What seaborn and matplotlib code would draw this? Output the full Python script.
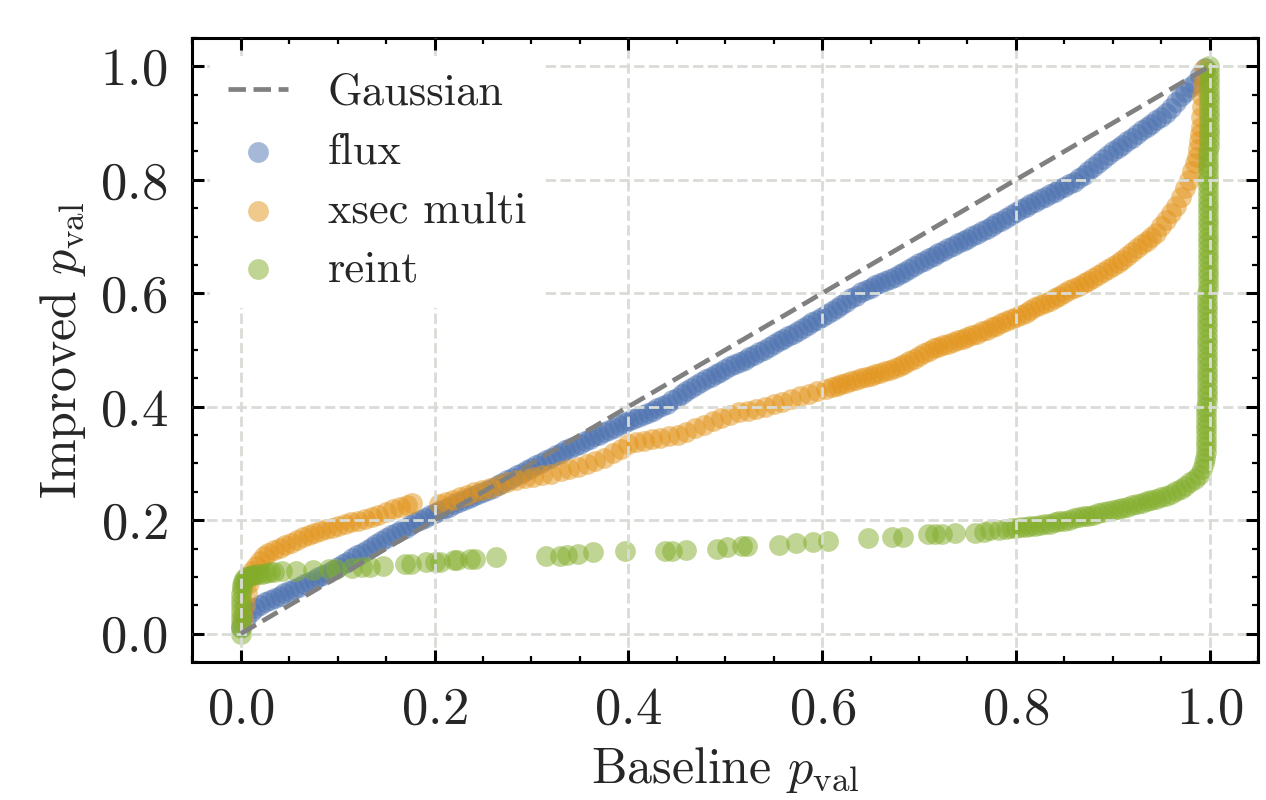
import matplotlib
matplotlib.use("Agg")
import matplotlib.pyplot as plt
import seaborn as sns
from matplotlib.ticker import MultipleLocator

# identity reference line
gauss_x = [0.0, 1.0]
gauss_y = [0.0, 1.0]

# flux: sorted p-values
flux_x = [
    0.000, 0.005, 0.010, 0.015, 0.020, 0.025, 0.030, 0.035, 0.040, 0.045,
    0.050, 0.055, 0.060, 0.065, 0.070, 0.075, 0.080, 0.085, 0.090, 0.095,
    0.100, 0.105, 0.110, 0.115, 0.120, 0.125, 0.130, 0.135, 0.140, 0.145,
    0.150, 0.155, 0.160, 0.165, 0.170, 0.175, 0.180, 0.185, 0.190, 0.195,
    0.200, 0.205, 0.210, 0.215, 0.220, 0.225, 0.230, 0.235, 0.240, 0.245,
    0.250, 0.255, 0.260, 0.265, 0.270, 0.275, 0.280, 0.285, 0.290, 0.295,
    0.300, 0.305, 0.310, 0.315, 0.320, 0.325, 0.330, 0.335, 0.340, 0.345,
    0.350, 0.355, 0.360, 0.365, 0.370, 0.375, 0.380, 0.385, 0.390, 0.395,
    0.400, 0.405, 0.410, 0.415, 0.420, 0.425, 0.430, 0.435, 0.440, 0.445,
    0.450, 0.455, 0.460, 0.465, 0.470, 0.475, 0.480, 0.485, 0.490, 0.495,
    0.500, 0.505, 0.510, 0.515, 0.520, 0.525, 0.530, 0.535, 0.540, 0.545,
    0.550, 0.555, 0.560, 0.565, 0.570, 0.575, 0.580, 0.585, 0.590, 0.595,
    0.600, 0.605, 0.610, 0.615, 0.620, 0.625, 0.630, 0.635, 0.640, 0.645,
    0.650, 0.655, 0.660, 0.665, 0.670, 0.675, 0.680, 0.685, 0.690, 0.695,
    0.700, 0.705, 0.710, 0.715, 0.720, 0.725, 0.730, 0.735, 0.740, 0.745,
    0.750, 0.755, 0.760, 0.765, 0.770, 0.775, 0.780, 0.785, 0.790, 0.795,
    0.800, 0.805, 0.810, 0.815, 0.820, 0.825, 0.830, 0.835, 0.840, 0.845,
    0.850, 0.855, 0.860, 0.865, 0.870, 0.875, 0.880, 0.885, 0.890, 0.895,
    0.900, 0.905, 0.910, 0.915, 0.920, 0.925, 0.930, 0.935, 0.940, 0.945,
    0.950, 0.955, 0.960, 0.965, 0.970, 0.975, 0.980, 0.985, 0.990, 0.995,
]
flux_y = [
    0.012, 0.028, 0.038, 0.045, 0.051, 0.055, 0.059, 0.063, 0.067, 0.071,
    0.075, 0.079, 0.083, 0.087, 0.091, 0.095, 0.099, 0.103, 0.107, 0.112,
    0.117, 0.122, 0.127, 0.133, 0.138, 0.143, 0.148, 0.153, 0.158, 0.163,
    0.168, 0.173, 0.178, 0.182, 0.187, 0.191, 0.196, 0.200, 0.204, 0.209,
    0.212, 0.216, 0.220, 0.224, 0.228, 0.232, 0.235, 0.239, 0.242, 0.246,
    0.250, 0.254, 0.257, 0.262, 0.266, 0.270, 0.275, 0.279, 0.284, 0.288,
    0.292, 0.297, 0.301, 0.306, 0.310, 0.315, 0.319, 0.323, 0.327, 0.331,
    0.335, 0.339, 0.343, 0.348, 0.351, 0.355, 0.359, 0.363, 0.367, 0.371,
    0.374, 0.378, 0.382, 0.386, 0.389, 0.393, 0.397, 0.401, 0.405, 0.411,
    0.416, 0.422, 0.428, 0.433, 0.439, 0.444, 0.448, 0.453, 0.457, 0.462,
    0.467, 0.471, 0.475, 0.479, 0.483, 0.488, 0.492, 0.496, 0.500, 0.505,
    0.510, 0.515, 0.519, 0.524, 0.529, 0.534, 0.539, 0.544, 0.549, 0.553,
    0.558, 0.563, 0.568, 0.574, 0.579, 0.585, 0.591, 0.596, 0.602, 0.606,
    0.610, 0.614, 0.618, 0.622, 0.625, 0.629, 0.634, 0.638, 0.643, 0.648,
    0.653, 0.657, 0.662, 0.666, 0.671, 0.675, 0.679, 0.683, 0.688, 0.692,
    0.696, 0.701, 0.705, 0.710, 0.714, 0.718, 0.723, 0.728, 0.733, 0.738,
    0.743, 0.748, 0.752, 0.757, 0.761, 0.766, 0.770, 0.775, 0.779, 0.784,
    0.788, 0.793, 0.797, 0.803, 0.809, 0.816, 0.823, 0.830, 0.836, 0.843,
    0.850, 0.856, 0.862, 0.868, 0.874, 0.881, 0.887, 0.893, 0.899, 0.905,
    0.911, 0.917, 0.926, 0.938, 0.948, 0.955, 0.963, 0.970, 0.984, 0.997,
]

# xsec multi
xsec_x = [
    0.002, 0.004, 0.006, 0.008, 0.010, 0.012, 0.016, 0.020, 0.024, 0.028,
    0.034, 0.040, 0.046, 0.052, 0.058, 0.064, 0.070, 0.076, 0.082, 0.088,
    0.094, 0.100, 0.107, 0.114, 0.121, 0.128, 0.135, 0.142, 0.150, 0.157,
    0.164, 0.171, 0.177, 0.205, 0.212, 0.219, 0.226, 0.233, 0.241, 0.249,
    0.257, 0.266, 0.275, 0.284, 0.293, 0.302, 0.311, 0.320, 0.330, 0.339,
    0.348, 0.357, 0.366, 0.375, 0.384, 0.392, 0.400, 0.408, 0.416, 0.424,
    0.433, 0.442, 0.451, 0.460, 0.469, 0.478, 0.487, 0.496, 0.505, 0.514,
    0.523, 0.532, 0.541, 0.550, 0.559, 0.568, 0.577, 0.586, 0.595, 0.604,
    0.610, 0.615, 0.620, 0.625, 0.630, 0.635, 0.640, 0.645, 0.650, 0.655,
    0.660, 0.665, 0.670, 0.675, 0.680, 0.685, 0.690, 0.695, 0.700, 0.705,
    0.710, 0.715, 0.720, 0.725, 0.730, 0.735, 0.740, 0.745, 0.750, 0.755,
    0.760, 0.765, 0.770, 0.775, 0.780, 0.785, 0.790, 0.795, 0.800, 0.805,
    0.810, 0.815, 0.820, 0.825, 0.830, 0.835, 0.840, 0.845, 0.850, 0.855,
    0.860, 0.865, 0.870, 0.875, 0.880, 0.885, 0.890, 0.895, 0.900, 0.905,
    0.910, 0.915, 0.920, 0.925, 0.930, 0.935, 0.940, 0.945, 0.950, 0.955,
    0.960, 0.965, 0.970, 0.975, 0.979, 0.982, 0.985, 0.987, 0.988, 0.989,
    0.990, 0.991, 0.991, 0.992, 0.992, 0.993, 0.993, 0.994,
]
xsec_y = [
    0.030, 0.050, 0.072, 0.090, 0.102, 0.111, 0.120, 0.128, 0.137, 0.142,
    0.147, 0.151, 0.156, 0.160, 0.165, 0.170, 0.174, 0.178, 0.181, 0.184,
    0.187, 0.190, 0.193, 0.196, 0.198, 0.202, 0.206, 0.210, 0.215, 0.219,
    0.223, 0.227, 0.230, 0.229, 0.232, 0.236, 0.240, 0.245, 0.249, 0.253,
    0.257, 0.262, 0.267, 0.270, 0.274, 0.277, 0.280, 0.282, 0.286, 0.290,
    0.294, 0.299, 0.305, 0.310, 0.318, 0.326, 0.334, 0.337, 0.340, 0.343,
    0.345, 0.348, 0.351, 0.356, 0.362, 0.368, 0.374, 0.380, 0.386, 0.390,
    0.393, 0.396, 0.400, 0.404, 0.409, 0.414, 0.419, 0.423, 0.428, 0.432,
    0.435, 0.437, 0.440, 0.442, 0.445, 0.447, 0.450, 0.452, 0.455, 0.457,
    0.460, 0.463, 0.465, 0.468, 0.471, 0.475, 0.480, 0.484, 0.489, 0.494,
    0.498, 0.503, 0.506, 0.509, 0.511, 0.514, 0.517, 0.520, 0.523, 0.526,
    0.529, 0.533, 0.536, 0.540, 0.543, 0.547, 0.551, 0.554, 0.558, 0.562,
    0.566, 0.570, 0.575, 0.579, 0.583, 0.587, 0.591, 0.596, 0.600, 0.605,
    0.609, 0.613, 0.618, 0.622, 0.627, 0.632, 0.638, 0.643, 0.648, 0.654,
    0.659, 0.666, 0.673, 0.680, 0.686, 0.693, 0.700, 0.707, 0.718, 0.730,
    0.741, 0.753, 0.769, 0.786, 0.800, 0.815, 0.830, 0.841, 0.855, 0.868,
    0.880, 0.893, 0.910, 0.928, 0.947, 0.963, 0.980, 0.995,
]

# reint
reint_x = [
    0.000, 0.000, 0.000, 0.000, 0.000, 0.000, 0.000, 0.000, 0.001, 0.001,
    0.002, 0.003, 0.005, 0.008, 0.011, 0.014, 0.018, 0.022, 0.026, 0.030,
    0.034, 0.042, 0.057, 0.074, 0.091, 0.098, 0.115, 0.125, 0.133, 0.147,
    0.169, 0.176, 0.191, 0.200, 0.206, 0.220, 0.223, 0.237, 0.242, 0.263,
    0.315, 0.329, 0.337, 0.348, 0.363, 0.397, 0.438, 0.445, 0.460, 0.492,
    0.502, 0.517, 0.522, 0.555, 0.573, 0.591, 0.606, 0.647, 0.672, 0.683,
    0.709, 0.717, 0.724, 0.737, 0.758, 0.767, 0.773, 0.783,
    0.790, 0.795, 0.800, 0.805, 0.810, 0.815, 0.820, 0.825, 0.830, 0.835,
    0.840, 0.845, 0.850, 0.855, 0.860, 0.865, 0.870, 0.875, 0.880, 0.885,
    0.890, 0.895, 0.900, 0.905, 0.910, 0.915, 0.920, 0.925, 0.930, 0.935,
    0.940, 0.945, 0.950, 0.955, 0.960, 0.965, 0.970, 0.975, 0.980, 0.985,
    0.989, 0.992, 0.994, 0.995,
    0.996, 0.996, 0.996, 0.996, 0.996, 0.996, 0.996, 0.996, 0.996,
    0.997, 0.997, 0.997, 0.997, 0.997, 0.997, 0.997, 0.997, 0.997, 0.997,
    0.997, 0.997, 0.997, 0.997, 0.997, 0.997, 0.997, 0.997, 0.997, 0.997,
    0.998, 0.998, 0.998, 0.998, 0.998, 0.998, 0.998, 0.998, 0.998, 0.998,
    0.998, 0.998, 0.998, 0.998, 0.998, 0.998, 0.998, 0.998, 0.998, 0.998,
    0.998, 0.998, 0.998, 0.998, 0.998,
    0.999, 0.999, 0.999, 0.999, 0.999, 0.999, 0.999, 0.999, 0.999, 0.999,
    0.999, 0.999, 0.999, 0.999, 0.999,
]
reint_y = [
    0.000, 0.010, 0.020, 0.030, 0.040, 0.050, 0.060, 0.070, 0.078, 0.085,
    0.091, 0.096, 0.099, 0.101, 0.103, 0.104, 0.105, 0.106, 0.107, 0.108,
    0.109, 0.111, 0.110, 0.113, 0.114, 0.114, 0.116, 0.117, 0.118, 0.120,
    0.122, 0.123, 0.126, 0.126, 0.127, 0.130, 0.130, 0.132, 0.132, 0.135,
    0.136, 0.137, 0.138, 0.140, 0.144, 0.145, 0.145, 0.146, 0.148, 0.150,
    0.152, 0.154, 0.155, 0.157, 0.159, 0.161, 0.164, 0.168, 0.170, 0.171,
    0.175, 0.176, 0.176, 0.177, 0.178, 0.180, 0.182, 0.183,
    0.185, 0.186, 0.187, 0.188, 0.188, 0.189, 0.190, 0.191, 0.193, 0.194,
    0.196, 0.198, 0.199, 0.201, 0.203, 0.205, 0.207, 0.208, 0.210, 0.212,
    0.214, 0.216, 0.218, 0.220, 0.222, 0.224, 0.227, 0.229, 0.231, 0.233,
    0.235, 0.237, 0.240, 0.243, 0.247, 0.251, 0.255, 0.261, 0.267, 0.273,
    0.280, 0.290, 0.300, 0.310,
    0.320, 0.330, 0.340, 0.350, 0.360, 0.370, 0.380, 0.390, 0.400,
    0.410, 0.420, 0.430, 0.440, 0.450, 0.460, 0.470, 0.480, 0.490, 0.500,
    0.510, 0.520, 0.530, 0.540, 0.550, 0.560, 0.570, 0.580, 0.590, 0.600,
    0.610, 0.620, 0.630, 0.640, 0.650, 0.660, 0.670, 0.680, 0.690, 0.700,
    0.710, 0.720, 0.730, 0.740, 0.750, 0.760, 0.770, 0.780, 0.790, 0.800,
    0.810, 0.820, 0.830, 0.840, 0.850,
    0.860, 0.870, 0.880, 0.890, 0.900, 0.910, 0.920, 0.930, 0.940, 0.950,
    0.960, 0.970, 0.980, 0.990, 1.000,
]

tick_values = [0.0, 0.2, 0.4, 0.6, 0.8, 1.0]

sns.set_theme(style="ticks")
plt.rcParams.update({
    "font.family": "serif",
    "font.serif": ["cmr10"],
    "mathtext.fontset": "cm",
    "axes.formatter.use_mathtext": True,
    "axes.unicode_minus": False,
    "font.size": 18,
    "axes.labelsize": 18,
    "xtick.labelsize": 19,
    "ytick.labelsize": 19,
    "legend.fontsize": 16,
    "axes.linewidth": 1.1,
    "axes.edgecolor": "black",
})

fig, ax = plt.subplots(figsize=(6.33, 4), dpi=200)
fig.subplots_adjust(left=0.152, right=0.9937, top=0.9525, bottom=0.1725)

ax.plot(gauss_x, gauss_y, ls="--", color="gray", lw=1.7, label="Gaussian", zorder=4)

marker_area = 56
sns.scatterplot(x=flux_x, y=flux_y, ax=ax, color="#4C72B0", alpha=0.5, s=marker_area,
                linewidth=0, label="flux")
sns.scatterplot(x=xsec_x, y=xsec_y, ax=ax, color="#E3941A", alpha=0.5, s=marker_area,
                linewidth=0, label="xsec multi")
sns.scatterplot(x=reint_x, y=reint_y, ax=ax, color="#82AD2A", alpha=0.5, s=marker_area,
                linewidth=0, label="reint")

ax.set_xlim(-0.05, 1.05)
ax.set_ylim(-0.05, 1.05)
ax.set_xticks(tick_values)
ax.set_yticks(tick_values)
ax.xaxis.set_minor_locator(MultipleLocator(0.05))
ax.yaxis.set_minor_locator(MultipleLocator(0.05))
ax.tick_params(which="both", direction="in", top=True, right=True, color="black")
ax.tick_params(which="major", length=4.3, width=1.1, pad=9)
ax.tick_params(which="minor", length=2.2, width=0.8)

ax.grid(True, which="major", ls="--", lw=1.0, color="#d9dcd6")
ax.set_axisbelow(False)

ax.set_xlabel(r"Baseline $p_\mathrm{val}$")
ax.set_ylabel(r"Improved $p_\mathrm{val}$")

leg = ax.legend(loc="upper left", frameon=True, facecolor="white", edgecolor="none",
                framealpha=1, fancybox=False, handlelength=1.35, handletextpad=0.9,
                labelspacing=0.42, borderaxespad=0.4)
leg.set_zorder(6)

fig.savefig("out.png", dpi=200)
